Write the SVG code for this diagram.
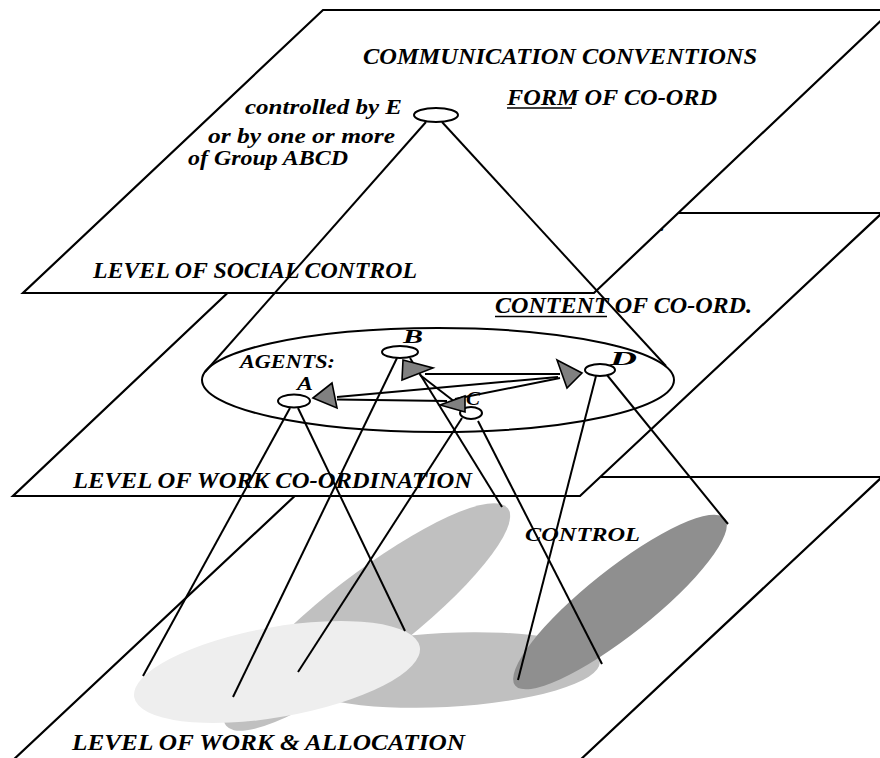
<svg xmlns="http://www.w3.org/2000/svg" width="880" height="758" viewBox="0 0 880 758">
<style>
.plane{fill:#fff;stroke:#000;stroke-width:2.2;stroke-linejoin:miter}
.ln{stroke:#000;stroke-width:2;fill:none;stroke-linecap:butt}
.node{fill:#fff;stroke:#000;stroke-width:2}
.tri{fill:#808080;stroke:#000;stroke-width:1.6;stroke-linejoin:miter}
.t{font-family:"Liberation Serif","Times New Roman",serif;font-style:italic;font-weight:bold;fill:#000}
.big{font-size:23px}
.mid{font-size:21px}
.sm{font-size:18px}
.lab{font-size:19px}
.ul{stroke:#000;stroke-width:1.5}
</style>
<rect width="880" height="758" fill="#fff"/>
<g id="plane-work-allocation">
<polygon class="plane" points="315,477 882,477 578,762 11,762"/>
<ellipse cx="367" cy="617" rx="178" ry="42" transform="rotate(-37.7 367 617)" fill="#c0c0c0"/>
<ellipse cx="445" cy="670" rx="155" ry="37" transform="rotate(-3 445 670)" fill="#c0c0c0"/>
<ellipse cx="620" cy="602" rx="134" ry="33" transform="rotate(-38.5 620 602)" fill="#8f8f8f"/>
<ellipse cx="277" cy="672" rx="145" ry="45" transform="rotate(-10 277 672)" fill="#eeeeee"/>
<text class="t big" x="72" y="750" textLength="393" lengthAdjust="spacingAndGlyphs">LEVEL OF WORK &amp; ALLOCATION</text>
<text class="t sm" x="525" y="541" textLength="115" lengthAdjust="spacingAndGlyphs">CONTROL</text>
</g>
<g id="plane-work-coordination">
<polygon class="plane" points="312,213 882,213 580,496 13,496"/>
<text class="t big" x="73" y="488" textLength="399" lengthAdjust="spacingAndGlyphs">LEVEL OF WORK CO-ORDINATION</text>
<text class="t big" x="495" y="313" textLength="257" lengthAdjust="spacingAndGlyphs">CONTENT OF CO-ORD.</text>
<line class="ul" x1="495" y1="316.5" x2="607" y2="316.5"/>
<text class="t sm" x="660" y="231">.</text>
</g>
<g id="plane-social-control">
<polygon class="plane" points="323,10 892,10 594,293 23,293"/>
<text class="t big" x="363" y="64" textLength="394" lengthAdjust="spacingAndGlyphs">COMMUNICATION  CONVENTIONS</text>
<text class="t big" x="507" y="105" textLength="210" lengthAdjust="spacingAndGlyphs">FORM OF CO-ORD</text>
<line class="ul" x1="507" y1="108" x2="572" y2="108"/>
<text class="t mid" x="245" y="114" textLength="157" lengthAdjust="spacingAndGlyphs">controlled by E</text>
<text class="t mid" x="208" y="143" textLength="187" lengthAdjust="spacingAndGlyphs">or by one or more</text>
<text class="t mid" x="188" y="165" textLength="160" lengthAdjust="spacingAndGlyphs">of Group ABCD</text>
<text class="t big" x="93" y="278" textLength="324" lengthAdjust="spacingAndGlyphs">LEVEL OF SOCIAL CONTROL</text>
</g>
<g id="agents-group">
<ellipse cx="438" cy="380" rx="236" ry="52" fill="none" stroke="#000" stroke-width="2"/>
<text class="t sm" x="240" y="368" textLength="95" lengthAdjust="spacingAndGlyphs">AGENTS:</text>
</g>
<g id="connectors">
<line class="ln" x1="426" y1="122" x2="205" y2="372"/>
<line class="ln" x1="442" y1="122" x2="666" y2="366"/>
<line class="ln" x1="290" y1="408" x2="143" y2="676"/>
<line class="ln" x1="298" y1="408" x2="405" y2="631"/>
<line class="ln" x1="397" y1="358" x2="233" y2="697"/>
<line class="ln" x1="410" y1="358" x2="502" y2="507"/>
<line class="ln" x1="462" y1="418" x2="298" y2="672"/>
<line class="ln" x1="478" y1="421" x2="602" y2="664"/>
<line class="ln" x1="596" y1="376" x2="518" y2="680"/>
<line class="ln" x1="607" y1="375" x2="728" y2="524"/>
<line class="ln" x1="337" y1="397" x2="558" y2="377"/>
<line class="ln" x1="337" y1="399.5" x2="447" y2="401"/>
<line class="ln" x1="425" y1="374" x2="560" y2="374"/>
<line class="ln" x1="560" y1="378" x2="455" y2="399"/>
<line class="ln" x1="420" y1="375" x2="455" y2="402"/>
<polygon class="tri" points="313,398 332,383 337,408"/>
<polygon class="tri" points="403,360 433,368 402,380"/>
<polygon class="tri" points="557,360 582,373 567,388"/>
</g>
<g id="node-E">
<ellipse class="node" cx="436" cy="115" rx="22" ry="7"/>
</g>
<g id="node-A">
<ellipse class="node" cx="294" cy="401" rx="16" ry="6.5"/>
<text class="t lab" x="297" y="390" textLength="16" lengthAdjust="spacingAndGlyphs">A</text>
</g>
<g id="node-B">
<ellipse class="node" cx="400" cy="352" rx="18" ry="6"/>
<text class="t lab" x="403" y="343" textLength="20" lengthAdjust="spacingAndGlyphs">B</text>
</g>
<g id="node-C">
<ellipse class="node" cx="471" cy="413" rx="11" ry="6"/>
<text class="t lab" x="466" y="405" textLength="14" lengthAdjust="spacingAndGlyphs">C</text>
<polygon class="tri" points="440,405 465,396 465,412"/>
</g>
<g id="node-D">
<ellipse class="node" cx="600" cy="370" rx="15" ry="6"/>
<text class="t lab" x="610" y="365" textLength="27" lengthAdjust="spacingAndGlyphs">D</text>
</g>
</svg>
